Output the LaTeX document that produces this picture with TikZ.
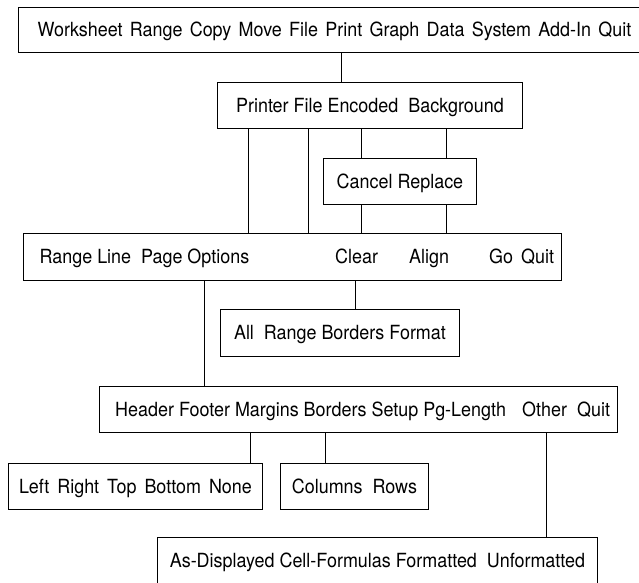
\documentclass[tikz,border=0pt]{standalone}
\usepackage{fontspec}
\setmainfont{TeX Gyre Heros}[FakeStretch=0.92]
\begin{document}
\begin{tikzpicture}[x=1pt, y=-1pt, font=\fontsize{19.5pt}{22pt}\selectfont]
\tikzset{
  menu/.style={draw, line width=0.9pt, inner sep=0pt, anchor=north west,
               text height=14pt, text depth=0pt},
  word/.style={inner sep=0pt, anchor=base west},
  link/.style={line width=0.9pt},
}
\useasboundingbox (0,0) rectangle (639,582);
\clip (0,0) rectangle (639,582);

% main menu
\node[menu, minimum width=632pt, minimum height=45pt] (main) at (18,7)
  {\spaceskip=7.3pt Worksheet Range Copy Move File Print Graph Data System Add-In Quit};

% print submenu
\node[menu, minimum width=305pt, minimum height=46pt] (pr) at (217,82)
  {Printer File Encoded\ \ Background};
\node[menu, minimum width=153pt, minimum height=46pt] (cr) at (323,158)
  {Cancel Replace};

% range / line / page / options row
\node[menu, minimum width=538pt, minimum height=47pt] (rg) at (23,233) {};
\node[word] (rgw) at (39.5,263.5) {Range Line\ \ Page Options};
\node[word] (clr) at (335,263.5) {Clear};
\node[word] (aln) at (409,263.5) {Align};
\node[word] (go)  at (489,263.5) {Go};
\node[word] (qt)  at (521,263.5) {Quit};

\node[menu, minimum width=239pt, minimum height=47pt] (cl) at (220,309)
  {All\ \ Range Borders Format};

% options row
\node[menu, minimum width=518pt, minimum height=46pt] (op) at (99,386) {};
\node[word] (opw) at (115,416) {Header Footer Margins Borders Setup Pg-Length};
\node[word] (oth) at (522,416) {Other};
\node[word] (oqt) at (577,416) {Quit};

\node[menu, minimum width=254pt, minimum height=46pt] (mg) at (8,463)
  {\spaceskip=8pt Left Right Top Bottom None};
\node[menu, minimum width=148pt, minimum height=46pt] (su) at (280,463)
  {Columns\ \ Rows};
\node[menu, minimum width=440pt, minimum height=46pt] (ot) at (157,537)
  {As-Displayed Cell-Formulas Formatted\ \ Unformatted};

% connectors
\draw[link] (341,0 |- main.south) -- (341,0 |- pr.north);
\draw[link] (248,0 |- pr.south) -- (248,0 |- rg.north);
\draw[link] (308,0 |- pr.south) -- (308,0 |- rg.north);
\draw[link] (361.5,0 |- pr.south) -- (361.5,0 |- cr.north);
\draw[link] (446.5,0 |- pr.south) -- (446.5,0 |- cr.north);
\draw[link] (361.5,0 |- cr.south) -- (361.5,0 |- rg.north);
\draw[link] (446.5,0 |- cr.south) -- (446.5,0 |- rg.north);
\draw[link] (204,0 |- rg.south) -- (204,0 |- op.north);
\draw[link] (355,0 |- rg.south) -- (355,0 |- cl.north);
\draw[link] (250,0 |- op.south) -- (250,0 |- mg.north);
\draw[link] (325,0 |- op.south) -- (325,0 |- su.north);
\draw[link] (546,0 |- op.south) -- (546,0 |- ot.north);
\end{tikzpicture}
\end{document}
